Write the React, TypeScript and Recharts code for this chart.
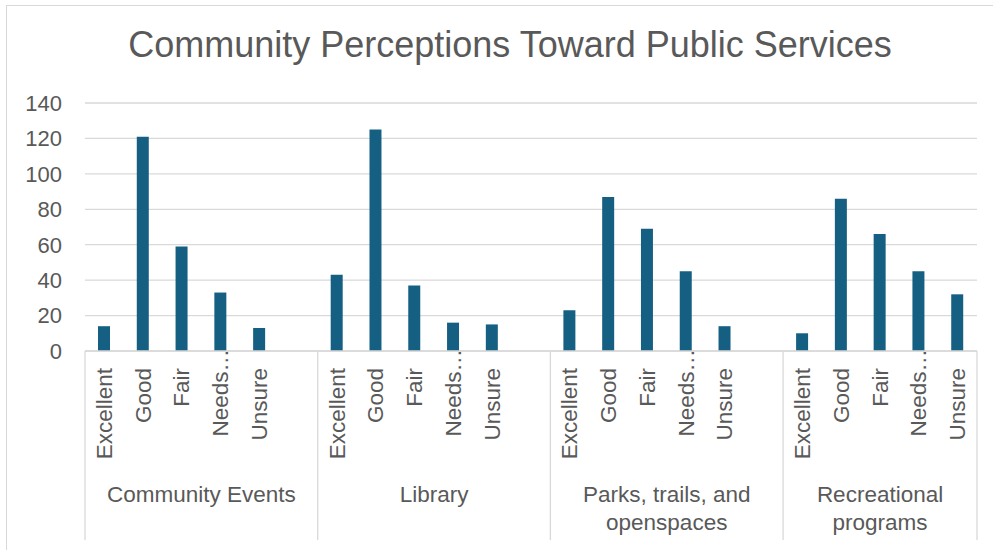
import React from "react";
import { BarChart, Bar, XAxis, YAxis, CartesianGrid } from "recharts";

const groups = ["Community Events", "Library", "Parks, trails, and openspaces", "Recreational programs"];
const ratings = ["Excellent", "Good", "Fair", "Needs…", "Unsure"];
const communityEvents = [14, 121, 59, 33, 13];
const library = [43, 125, 37, 16, 15];
const parksTrails = [23, 87, 69, 45, 14];
const recreational = [10, 86, 66, 45, 32];
const groupValues = [communityEvents, library, parksTrails, recreational];
const groupHasBlankSlot = [true, true, true, false];
const yTicks = [0, 20, 40, 60, 80, 100, 120, 140];
const title = "Community Perceptions Toward Public Services";

type Row = { key: string; rating: string; group: string; value: number | null };
const rows: Row[] = [];
groups.forEach((g, gi) => {
  ratings.forEach((r, ri) => {
    rows.push({ key: `${g}|${r}`, rating: r, group: g, value: groupValues[gi][ri] });
  });
  if (groupHasBlankSlot[gi]) rows.push({ key: `${g}|`, rating: "", group: g, value: null });
});

const TEXT = "#595959";
const LINE = "#d9d9d9";
const BAR = "#156082";
const FONT = "'Liberation Sans', Arial, sans-serif";
const AXIS_FS = 22.5;

function wrapLabel(label: string, maxChars: number): string[] {
  const words = label.split(" ");
  const lines: string[] = [];
  let cur = "";
  words.forEach((w) => {
    const next = cur ? cur + " " + w : w;
    if (next.length > maxChars && cur) {
      lines.push(cur);
      cur = w;
    } else cur = next;
  });
  if (cur) lines.push(cur);
  return lines;
}

const CategoryTick = (props: any) => {
  const { x, y, payload, width } = props;
  const i = payload.index;
  const row = rows[i];
  if (!row) return null;
  const half = payload.offset || width / rows.length / 2;
  const isFirst = i === 0 || rows[i - 1].group !== row.group;
  const isLast = i === rows.length - 1;
  const count = rows.filter((r) => r.group === row.group).length;
  const left = x - half;
  const center = left + count * half;
  const ell = row.rating.endsWith("…");
  const maxChars = Math.floor((count * 2 * half - 20) / 11);
  const lines = wrapLabel(row.group, maxChars);
  return (
    <g>
      {row.rating && (
        <text
          transform={`translate(${x},${y + 17 - (ell ? 19 : 0)}) rotate(-90)`}
          textAnchor="end"
          dominantBaseline="central"
          fontSize={AXIS_FS}
          fill={TEXT}
          fontFamily={FONT}
        >
          {row.rating}
        </text>
      )}
      {isFirst && <line x1={left} x2={left} y1={y} y2={y + 189} stroke={LINE} strokeWidth={1.3} />}
      {isFirst && (
        <text x={center} y={y + 151} textAnchor="middle" fontSize={AXIS_FS} fill={TEXT} fontFamily={FONT}>
          {lines.map((l, k) => (
            <tspan key={k} x={center} dy={k === 0 ? 0 : 28}>
              {l}
            </tspan>
          ))}
        </text>
      )}
      {isLast && <line x1={x + half} x2={x + half} y1={y} y2={y + 189} stroke={LINE} strokeWidth={1.3} />}
    </g>
  );
};

export default function App() {
  return (
    <div
      style={{
        position: "fixed",
        left: 0,
        top: 0,
        width: 993,
        height: 550,
        overflow: "hidden",
        background: "#fff",
        fontFamily: FONT,
      }}
    >
      <div
        style={{
          position: "absolute",
          left: 6,
          top: 5,
          width: 1100,
          height: 700,
          border: `1.3px solid ${LINE}`,
          boxSizing: "border-box",
        }}
      />
      <div
        style={{
          position: "absolute",
          left: 0,
          width: 1020,
          top: 27,
          textAlign: "center",
          fontSize: 36,
          lineHeight: "36px",
          color: TEXT,
          whiteSpace: "nowrap",
        }}
      >
        {title}
      </div>
      <div style={{ position: "absolute", left: 0, top: 0 }}>
        <BarChart
          width={993}
          height={550}
          data={rows}
          margin={{ top: 103, right: 16, bottom: 0, left: 0 }}
          barCategoryGap={0}
        >
          <CartesianGrid vertical={false} stroke={LINE} strokeWidth={1.3} />
          <XAxis
            dataKey="key"
            interval={0}
            height={199}
            tickLine={false}
            tickSize={0}
            tickMargin={0}
            axisLine={{ stroke: LINE, strokeWidth: 1.3 }}
            tick={<CategoryTick />}
            padding={{ left: 0, right: 0 }}
          />
          <YAxis
            domain={[0, 140]}
            ticks={yTicks}
            width={85}
            axisLine={false}
            tickLine={false}
            tickSize={0}
            tickMargin={23}
            tick={{ fill: TEXT, fontSize: 22, fontFamily: FONT }}
          />
          <Bar dataKey="value" fill={BAR} barSize={12} isAnimationActive={false} />
        </BarChart>
      </div>
    </div>
  );
}
